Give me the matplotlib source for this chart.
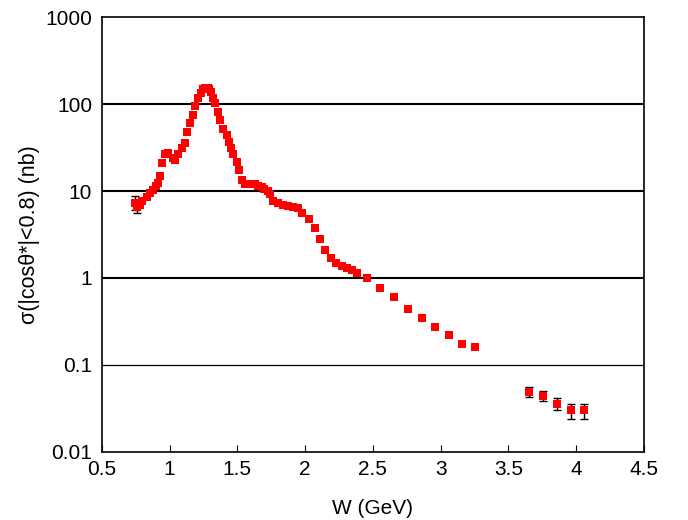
import numpy as np
import matplotlib
matplotlib.use("Agg")
import matplotlib.pyplot as plt

plt.rcParams['font.family'] = ['Liberation Sans', 'DejaVu Sans']

# cross section points (W in GeV, sigma in nb)
w = [0.78, 0.80, 0.83, 0.855, 0.875, 0.90, 0.915, 0.93, 0.945, 0.965, 0.99,
     1.026, 1.04, 1.063, 1.088, 1.11, 1.13, 1.15, 1.175, 1.19, 1.21, 1.23,
     1.245, 1.26, 1.28, 1.29, 1.305, 1.32, 1.335, 1.355, 1.37, 1.395, 1.42,
     1.435, 1.455, 1.47, 1.495, 1.515, 1.535, 1.555, 1.58, 1.605, 1.63,
     1.655, 1.68, 1.70, 1.725, 1.74, 1.765, 1.80, 1.835, 1.87, 1.91, 1.945,
     1.98, 2.03, 2.07, 2.11, 2.145, 2.19, 2.23, 2.27, 2.31, 2.345, 2.385,
     2.455, 2.555, 2.655, 2.76, 2.86, 2.955, 3.06, 3.16, 3.255]
sigma = [6.9, 7.7, 8.5, 9.5, 10.3, 11.4, 12.4, 14.9, 21, 27, 27.5,
         23.8, 22.7, 27, 31, 35.6, 48, 60, 75, 95, 116, 135,
         148, 152, 155, 150, 138, 118, 102, 81, 65, 52, 44,
         37, 31, 27, 21.7, 17.4, 13.4, 12.2, 12.2, 12.0, 12.0,
         11.4, 11.0, 10.5, 10.0, 9.3, 7.6, 7.2, 6.9, 6.7, 6.5, 6.3,
         5.6, 4.8, 3.8, 2.8, 2.1, 1.7, 1.5, 1.37, 1.30, 1.24, 1.14,
         1.0, 0.76, 0.60, 0.44, 0.345, 0.27, 0.22, 0.176, 0.162]

# points with visible error bars
w_err = [0.745, 0.76, 3.655, 3.755, 3.86, 3.96, 4.06]
sigma_err = [7.3, 6.5, 0.049, 0.044, 0.036, 0.030, 0.030]
err_lo = [1.3, 0.9, 0.006, 0.006, 0.006, 0.006, 0.006]
err_hi = [1.5, 1.0, 0.007, 0.006, 0.006, 0.006, 0.006]

fig = plt.figure(figsize=(6.88, 5.20), dpi=100)
ax = fig.add_axes([0.148, 0.131, 0.788, 0.836])

# decade grid lines
for yv, lw in [(100, 1.5), (10, 1.5), (1, 1.5), (0.1, 0.9)]:
    ax.axhline(yv, color='black', lw=lw, zorder=1)

ax.errorbar(w_err, sigma_err, yerr=[err_lo, err_hi], fmt='none',
            ecolor='black', elinewidth=1, capsize=3, capthick=1, zorder=2)
ax.plot(w_err, sigma_err, 's', color='#ff0000', markersize=6.2,
        markeredgewidth=0, zorder=3)
ax.plot(w, sigma, 's', color='#ff0000', markersize=6.2,
        markeredgewidth=0, zorder=3)

ax.set_yscale('log')
ax.set_xlim(0.5, 4.5)
ax.set_ylim(0.01, 1000)
ax.set_xticks(np.arange(0.5, 4.51, 0.5))
ax.set_xticklabels(['0.5', '1', '1.5', '2', '2.5', '3', '3.5', '4', '4.5'])
ax.set_yticks([0.01, 0.1, 1, 10, 100, 1000])
ax.set_yticklabels(['0.01', '0.1', '1', '10', '100', '1000'])
ax.yaxis.set_minor_locator(matplotlib.ticker.NullLocator())

ax.tick_params(axis='x', direction='in', length=5, width=0.8, labelsize=15, pad=6)
ax.tick_params(axis='y', direction='out', length=0, labelsize=15, pad=7)
for s in ax.spines.values():
    s.set_linewidth(1.2)

ax.set_xlabel('W (GeV)', fontsize=15, labelpad=14)
ax.set_ylabel('σ(|cosθ*|<0.8) (nb)', fontsize=15.5, labelpad=4)

fig.savefig('out.png', dpi=100)
